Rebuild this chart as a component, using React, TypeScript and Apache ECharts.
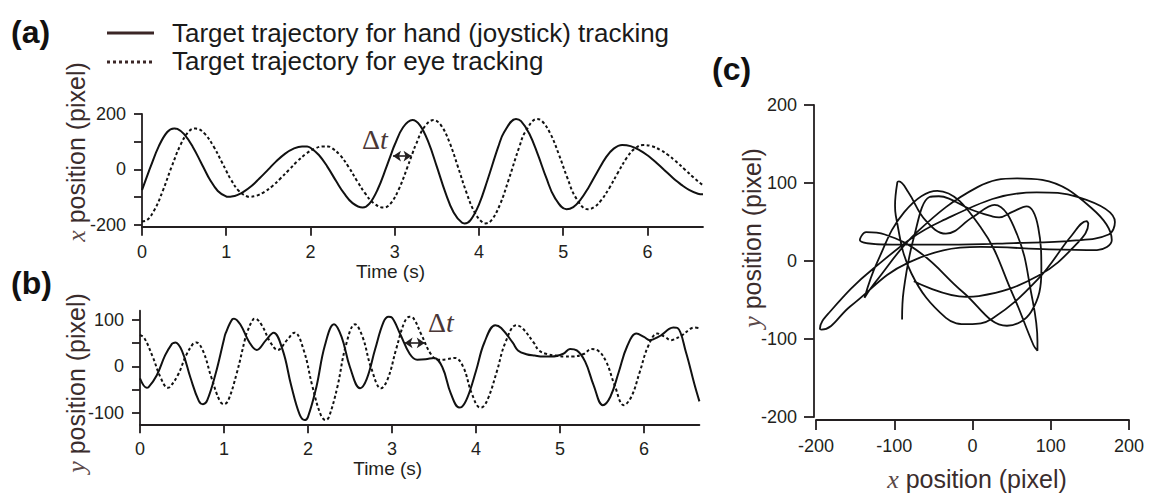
import React, { useEffect, useRef } from "react";
import * as echarts from "echarts";

// ---- data ----
// hand (joystick) target trajectory: time (s), x (pixel), y (pixel)
const handT = [0, 0.08, 0.1, 0.2, 0.3, 0.38, 0.4, 0.42, 0.5, 0.6, 0.7, 0.75, 0.8, 0.9, 1.0, 1.02, 1.1, 1.12, 1.2, 1.3, 1.39, 1.5, 1.59, 1.7, 1.8, 1.9, 1.96, 2.0, 2.1, 2.2, 2.31, 2.4, 2.5, 2.62, 2.7, 2.8, 2.9, 2.96, 3.0, 3.1, 3.21, 3.3, 3.4, 3.5, 3.6, 3.7, 3.8, 3.83, 3.9, 4.0, 4.1, 4.23, 4.3, 4.44, 4.5, 4.6, 4.7, 4.8, 4.9, 5.04, 5.12, 5.2, 5.3, 5.4, 5.51, 5.6, 5.7, 5.8, 5.91, 6.0, 6.07, 6.1, 6.2, 6.3, 6.35, 6.4, 6.5, 6.6, 6.66];
const handX = [-75, -8, 8, 84, 135, 148, 147, 146, 127, 83, 25, -5, -34, -78, -98, -99, -96, -94, -82, -60, -34, 0, 28, 57, 75, 83, 83, 78, 52, 10, -45, -87, -122, -138, -124, -71, 7, 57, 89, 152, 178, 159, 98, 10, -82, -156, -193, -195, -183, -127, -40, 82, 135, 182, 174, 128, 53, -31, -102, -144, -136, -112, -66, -12, 44, 75, 88, 84, 69, 51, 34, 26, -2, -30, -43, -55, -75, -88, -90];
const handY = [-26, -46, -45, -19, 24, 48, 50, 51, 33, -24, -74, -81, -73, -16, 58, 71, 101, 102, 88, 52, 35, 56, 72, 34, -41, -103, -115, -108, -44, 44, 90, 63, -2, -47, -27, 37, 95, 106, 104, 68, 27, 14, 15, 18, -2, -58, -88, -87, -66, -10, 51, 88, 82, 50, 34, 26, 23, 21, 21, 27, 37, 34, 10, -40, -83, -65, -12, 43, 70, 63, 56, 57, 66, 80, 83, 82, 30, -38, -75];

// eye target trajectory (dotted): time (s), x (pixel), y (pixel)
const eyeT = [0, 0.05, 0.15, 0.25, 0.33, 0.35, 0.45, 0.55, 0.63, 0.65, 0.67, 0.75, 0.85, 0.95, 1.0, 1.05, 1.15, 1.25, 1.27, 1.35, 1.37, 1.45, 1.55, 1.64, 1.75, 1.84, 1.95, 2.05, 2.15, 2.21, 2.25, 2.35, 2.45, 2.56, 2.65, 2.75, 2.87, 2.95, 3.05, 3.15, 3.21, 3.25, 3.35, 3.46, 3.55, 3.65, 3.75, 3.85, 3.95, 4.05, 4.08, 4.15, 4.25, 4.35, 4.48, 4.55, 4.69, 4.75, 4.85, 4.95, 5.05, 5.15, 5.29, 5.37, 5.45, 5.55, 5.65, 5.76, 5.85, 5.95, 6.05, 6.16, 6.25, 6.32, 6.35, 6.45, 6.55, 6.6, 6.65];
const eyeX = [-188, -185, -145, -75, -8, 8, 84, 135, 148, 147, 146, 127, 83, 25, -5, -34, -78, -98, -99, -96, -94, -82, -60, -34, 0, 28, 57, 75, 83, 83, 78, 52, 10, -45, -87, -122, -138, -124, -71, 7, 57, 89, 152, 178, 159, 98, 10, -82, -156, -193, -195, -183, -127, -40, 82, 135, 182, 174, 128, 53, -31, -102, -144, -136, -112, -66, -12, 44, 75, 88, 84, 69, 51, 34, 26, -2, -30, -43, -55];
const eyeY = [67, 61, 21, -26, -46, -45, -19, 24, 48, 50, 51, 33, -24, -74, -81, -73, -16, 58, 71, 101, 102, 88, 52, 35, 56, 72, 34, -41, -103, -115, -108, -44, 44, 90, 63, -2, -47, -27, 37, 95, 106, 104, 68, 27, 14, 15, 18, -2, -58, -88, -87, -66, -10, 51, 88, 82, 50, 34, 26, 23, 21, 21, 27, 37, 34, 10, -40, -83, -65, -12, 43, 70, 63, 56, 57, 66, 80, 83, 82];

const timeTicks = [0, 1, 2, 3, 4, 5, 6];
const aTicks = [-200, -100, 0, 100, 200];
const aLabels = [-200, 0, 200];
const bTicks = [-100, -50, 0, 50, 100];
const bLabels = [-100, 0, 100];
const cTicks = [-200, -100, 0, 100, 200];

const HAND = "Target trajectory for hand (joystick) tracking";
const EYE = "Target trajectory for eye tracking";
// Δt arrows: [t start, t end, value]
const dtA = [2.98, 3.2, 48];
const dtB = [3.15, 3.39, 50];

const FONT = '"Liberation Sans", Arial, Helvetica, sans-serif';
const SERIF = '"Liberation Serif", "DejaVu Serif", "Times New Roman", serif';
const INK = "#231f20";
const TITLE = "#3a2c2c";

function timeAxis(gridIndex: number) {
  return {
    type: "value",
    gridIndex,
    min: 0,
    max: 6.66,
    axisLine: { show: true, onZero: false, lineStyle: { color: INK, width: 1.8 } },
    axisTick: { show: true, customValues: timeTicks, length: 9, lineStyle: { color: INK, width: 1.8 } },
    axisLabel: { customValues: timeTicks, fontSize: 18, color: INK, fontFamily: FONT, margin: 16 },
    splitLine: { show: false },
    name: "Time (s)",
    nameLocation: "middle",
    nameGap: 30,
    nameTextStyle: { fontSize: 19, color: INK, fontFamily: FONT, padding: [0, 64, 0, 0] },
  };
}

function valAxis(gridIndex: number, min: number, max: number, ticks: number[], labels: number[]) {
  return {
    type: "value",
    gridIndex,
    min,
    max,
    axisLine: { show: true, onZero: false, lineStyle: { color: INK, width: 1.8 } },
    axisTick: { show: true, customValues: ticks, length: 8, lineStyle: { color: INK, width: 1.8 } },
    axisLabel: { customValues: labels, fontSize: 18, color: INK, fontFamily: FONT, margin: 16 },
    splitLine: { show: false },
  };
}

function cAxis(gridIndex: number, offset: number) {
  return {
    type: "value",
    gridIndex,
    min: -200,
    max: 200,
    interval: 100,
    offset,
    axisLine: { show: true, onZero: false, lineStyle: { color: INK, width: 1.8 } },
    axisTick: { show: true, customValues: cTicks, length: 10, lineStyle: { color: INK, width: 1.8 } },
    axisLabel: { customValues: cTicks, fontSize: 18, color: INK, fontFamily: FONT, margin: 17 },
    splitLine: { show: false },
  };
}

function arrowLine(d: number[]) {
  return {
    silent: true,
    symbol: ["arrow", "arrow"],
    symbolSize: [8, 8],
    label: { show: false },
    lineStyle: { color: INK, width: 1.6, type: "solid" },
    emphasis: { disabled: true },
    data: [[{ coord: [d[0], d[2]] }, { coord: [d[1], d[2]] }]],
  };
}

function axisTitle(x: number, y: number, v: string, rotate: boolean) {
  return {
    type: "text",
    x,
    y,
    rotation: rotate ? Math.PI / 2 : 0,
    style: {
      text: "{i|" + v + "} position (pixel)",
      fontSize: 25,
      fontFamily: FONT,
      fill: TITLE,
      align: "center",
      verticalAlign: "middle",
      rich: {
        i: { fontFamily: SERIF, fontStyle: "italic", fontSize: 26, fill: "#5a4848" },
      },
    },
  };
}

function deltaT(x: number, y: number) {
  return {
    type: "text",
    x,
    y,
    style: {
      text: "Δ{i|t}",
      fontSize: 28,
      fontFamily: SERIF,
      fill: "#4a3636",
      align: "center",
      verticalAlign: "middle",
      rich: { i: { fontFamily: SERIF, fontStyle: "italic", fontSize: 28, fill: "#4a3636" } },
    },
  };
}

function panelLabel(x: number, y: number, s: string) {
  return {
    type: "text",
    x,
    y,
    style: { text: s, fontSize: 32, fontWeight: "bold", fontFamily: FONT, fill: "#111", verticalAlign: "middle" },
  };
}

export default function App() {
  const ref = useRef<HTMLDivElement>(null);

  useEffect(() => {
    document.body.style.margin = "0";
    if (!ref.current) return;
    const chart = echarts.init(ref.current, undefined, { renderer: "svg" });

    const lineBase = { type: "line", showSymbol: false, symbol: "none", smooth: 0.4, silent: true };

    chart.setOption({
      animation: false,
      backgroundColor: "#ffffff",
      grid: [
        { left: 142, top: 114, width: 561, height: 112.7 },
        { left: 140, top: 310.7, width: 559.4, height: 113.6 },
        { left: 816, top: 105, width: 313, height: 312 },
      ],
      xAxis: [timeAxis(0), timeAxis(1), cAxis(2, 3)],
      yAxis: [valAxis(0, -207, 200, aTicks, aLabels), valAxis(1, -124, 119, bTicks, bLabels), cAxis(2, 2)],
      series: [
        {
          ...lineBase,
          name: HAND,
          xAxisIndex: 0,
          yAxisIndex: 0,
          data: handT.map((t, i) => [t, handX[i]]),
          lineStyle: { color: "#111111", width: 2 },
          markLine: arrowLine(dtA),
        },
        {
          ...lineBase,
          name: EYE,
          xAxisIndex: 0,
          yAxisIndex: 0,
          data: eyeT.map((t, i) => [t, eyeX[i]]),
          lineStyle: { color: "#111111", width: 2, type: [3, 2.5] },
        },
        {
          ...lineBase,
          name: HAND,
          xAxisIndex: 1,
          yAxisIndex: 1,
          data: handT.map((t, i) => [t, handY[i]]),
          lineStyle: { color: "#111111", width: 2 },
          markLine: arrowLine(dtB),
        },
        {
          ...lineBase,
          name: EYE,
          xAxisIndex: 1,
          yAxisIndex: 1,
          data: eyeT.map((t, i) => [t, eyeY[i]]),
          lineStyle: { color: "#111111", width: 2, type: [3, 2.5] },
        },
        {
          ...lineBase,
          name: HAND,
          xAxisIndex: 2,
          yAxisIndex: 2,
          data: handX.map((x, i) => [x, handY[i]]),
          lineStyle: { color: "#111111", width: 1.8 },
        },
      ],
      graphic: [
        panelLabel(11, 32, "(a)"),
        panelLabel(11, 283, "(b)"),
        panelLabel(712, 69, "(c)"),
        { type: "line", shape: { x1: 107, y1: 33, x2: 154, y2: 33 }, style: { stroke: "#3b2626", lineWidth: 3 } },
        { type: "line", shape: { x1: 107, y1: 62, x2: 154, y2: 62 }, style: { stroke: "#3b2626", lineWidth: 3, lineDash: [3, 3] } },
        { type: "text", x: 172, y: 33, style: { text: HAND, fontSize: 26, fontFamily: FONT, fill: "#1a1a1a", verticalAlign: "middle" } },
        { type: "text", x: 172, y: 61, style: { text: EYE, fontSize: 26, fontFamily: FONT, fill: "#1a1a1a", verticalAlign: "middle" } },
        axisTitle(76, 152, "x", true),
        axisTitle(76, 383, "y", true),
        axisTitle(752, 238, "y", true),
        axisTitle(977, 479, "x", false),
        deltaT(375, 139),
        deltaT(441, 322),
      ],
    });

    return () => chart.dispose();
  }, []);

  return <div ref={ref} style={{ width: 1150, height: 500 }} />;
}
